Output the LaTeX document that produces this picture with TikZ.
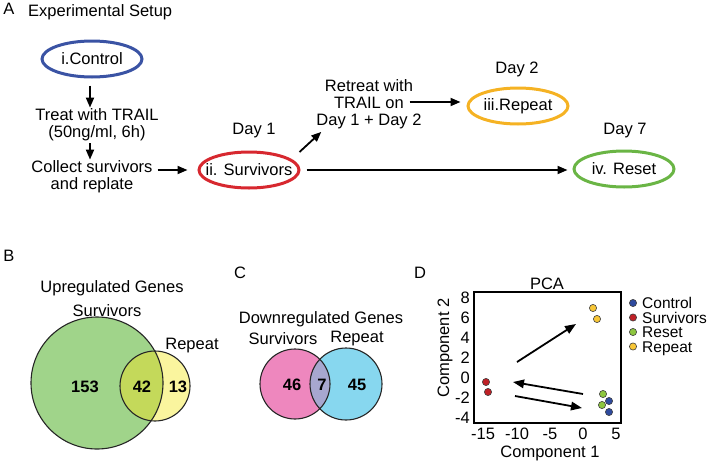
\documentclass[tikz,border=0pt]{standalone}
\usepackage{fontspec}
\setmainfont{Liberation Sans}
\usetikzlibrary{shapes.geometric,arrows.meta}
\definecolor{cctrl}{HTML}{3A53A4}
\definecolor{csurv}{HTML}{D7282F}
\definecolor{crep}{HTML}{F5B223}
\definecolor{creset}{HTML}{6AB545}
\definecolor{vgreen}{HTML}{A0D48A}
\definecolor{vyellow}{HTML}{FAF59E}
\definecolor{vgy}{HTML}{C4D95A}
\definecolor{vpink}{HTML}{EE87BE}
\definecolor{vblue}{HTML}{87D7EF}
\definecolor{vpb}{HTML}{A7A7CF}
\definecolor{dblue}{HTML}{2E4A9E}
\definecolor{dred}{HTML}{BF2026}
\definecolor{dgreen}{HTML}{8DC63F}
\definecolor{dyellow}{HTML}{F7C636}
\begin{document}
\begin{tikzpicture}[x=1pt,y=-1pt,
  every node/.style={font=\fontsize{16.5}{17}\selectfont, inner sep=0pt},
  stage/.style={ellipse, draw, line width=3pt, minimum width=100pt, minimum height=36pt, inner sep=0pt},
  flow/.style={line width=1.8pt, -{Triangle[length=10pt,width=8pt]}},
  pcaarrow/.style={line width=1.8pt, -{Triangle[length=11pt,width=8.5pt]}},
  venn/.style={draw=black!85, line width=1.1pt},
  num/.style={font=\fontsize{16.5}{17}\selectfont\bfseries},
  pdot/.style={draw=black!75, line width=0.6pt},
  legtext/.style={font=\fontsize{15.5}{14}\selectfont},
  multi/.style={align=center}]
\useasboundingbox (0,0) rectangle (712,461);

% ---------------- Panel A ----------------
\node (lA) at (9,9) {A};
\node[anchor=west] (title) at (28,12) {Experimental Setup};

\node[stage, draw=cctrl] (control) at (92,59) {\makebox[0pt]{i.Control}};
\node[multi] (treat) at (97,125) {Treat with TRAIL\\(50ng/ml, 6h)};
\node[multi] (collect) at (92,177) {Collect survivors\\and replate};
\node[stage, draw=csurv] (surv) at (249,170) {\makebox[0pt]{ii. Survivors}};
\node (day1) at (254,131) {Day 1};
\node[multi] (retreat) at (369,104) {Retreat with\\TRAIL on\\Day 1 + Day 2};
\node[stage, draw=crep] (repeat) at (518,106) {\makebox[0pt]{iii.Repeat}};
\node (day2) at (517,69) {Day 2};
\node[stage, draw=creset] (reset) at (624,169) {\makebox[0pt]{iv. Reset}};
\node (day7) at (625,131) {Day 7};

\draw[flow] ([yshift=-7pt]control.south -| 90,0) -- ([yshift=1pt]treat.north -| 90,0);
\draw[flow] ([yshift=-2pt]treat.south -| 90,0) -- ([yshift=1pt]collect.north -| 90,0);
\draw[flow] ([xshift=5pt]collect.east |- surv.west) -- ([xshift=-10pt]surv.west);
\draw[flow] ([shift={(-1,-18)}]surv.east) -- ([shift={(5,3)}]retreat.south west);
\draw[flow] ([shift={(-12,-2)}]retreat.east) -- ([shift={(-6,-4)}]repeat.west);
\draw[flow] ([xshift=6pt]surv.east) -- ([xshift=-5pt]surv.east -| reset.west);

% ---------------- Panel B ----------------
\node (lB) at (9,256) {B};
\node (upt) at (112,288) {Upregulated Genes};
\node (upsurv) at (107,311) {Survivors};
\node (uprep) at (192,346) {Repeat};
\fill[vgreen] (97,383) circle (66pt);
\fill[vyellow] (155,386) circle (35pt);
\begin{scope}
  \clip (155,386) circle (35pt);
  \fill[vgy] (97,383) circle (66pt);
\end{scope}
\draw[venn] (97,383) circle (66pt);
\draw[venn] (155,386) circle (35pt);
\node[num] (n153) at (85,387) {153};
\node[num] (n42) at (142,387) {42};
\node[num] (n13) at (178,387) {13};

% ---------------- Panel C ----------------
\node (lC) at (240,273) {C};
\node (dnt) at (321,319) {Downregulated Genes};
\node (dnsurv) at (283,339) {Survivors};
\node (dnrep) at (357,339) {Repeat};
\fill[vpink] (295,384) circle (35pt);
\fill[vblue] (346,384) circle (36pt);
\begin{scope}
  \clip (295,384) circle (35pt);
  \fill[vpb] (346,384) circle (36pt);
\end{scope}
\draw[venn] (295,384) circle (35pt);
\draw[venn] (346,384) circle (36pt);
\node[num] (n46) at (292,385) {46};
\node[num] (n7) at (322,385) {7};
\node[num] (n45) at (357,385) {45};

% ---------------- Panel D ----------------
\node (lD) at (420,273) {D};
\node (pca) at (547,284) {PCA};
\draw[line width=1.5pt] (474,292) rectangle (621,423);
\foreach \v/\yy in {8/298,6/318,4/338,2/358,0/378,-2/398,-4/418}
  \node[anchor=east] (yt\v) at (470,\yy) {\v};
\foreach \v/\xx in {-15/483,-10/517,-5/550,0/583,5/616}
  \node (xt\v) at (\xx,434) {\v};
\node (xlab) at (550,453) {Component 1};
\node[rotate=90] (ylab) at (445,348) {Component 2};

\begin{scope}[shift={(583,378)}, x=6.667pt, y=10pt]
  \filldraw[pdot, fill=dyellow] (1.5,7.0) circle (3.6pt);
  \filldraw[pdot, fill=dyellow] (2.1,5.9) circle (3.6pt);
  \filldraw[pdot, fill=dred] (-14.55,-0.4) circle (3.6pt);
  \filldraw[pdot, fill=dred] (-14.25,-1.4) circle (3.6pt);
  \filldraw[pdot, fill=dgreen] (3.0,-1.6) circle (3.6pt);
  \filldraw[pdot, fill=dgreen] (2.85,-2.7) circle (3.6pt);
  \filldraw[pdot, fill=dblue] (3.9,-2.3) circle (3.6pt);
  \filldraw[pdot, fill=dblue] (3.9,-3.4) circle (3.6pt);
  \coordinate (a1s) at (-9.9,1.6);
  \coordinate (a1e) at (-1.05,5.4);
  \coordinate (a2s) at (0,-1.6);
  \coordinate (a2e) at (-10.5,-0.4);
  \coordinate (a3s) at (-10.2,-1.8);
  \coordinate (a3e) at (-0.15,-3.0);
\end{scope}
\draw[pcaarrow] (a1s) -- (a1e);
\draw[pcaarrow] (a2s) -- (a2e);
\draw[pcaarrow] (a3s) -- (a3e);

% legend
\foreach \nm/\col/\yy in {Control/dblue/303,Survivors/dred/317.5,Reset/dgreen/332,Repeat/dyellow/346.5}{
  \filldraw[pdot, fill=\col] (633,\yy) circle (3.6pt);
  \node[legtext, anchor=base west] (leg\nm) at (642,\yy+5.5) {\nm};
}
\end{tikzpicture}
\end{document}
